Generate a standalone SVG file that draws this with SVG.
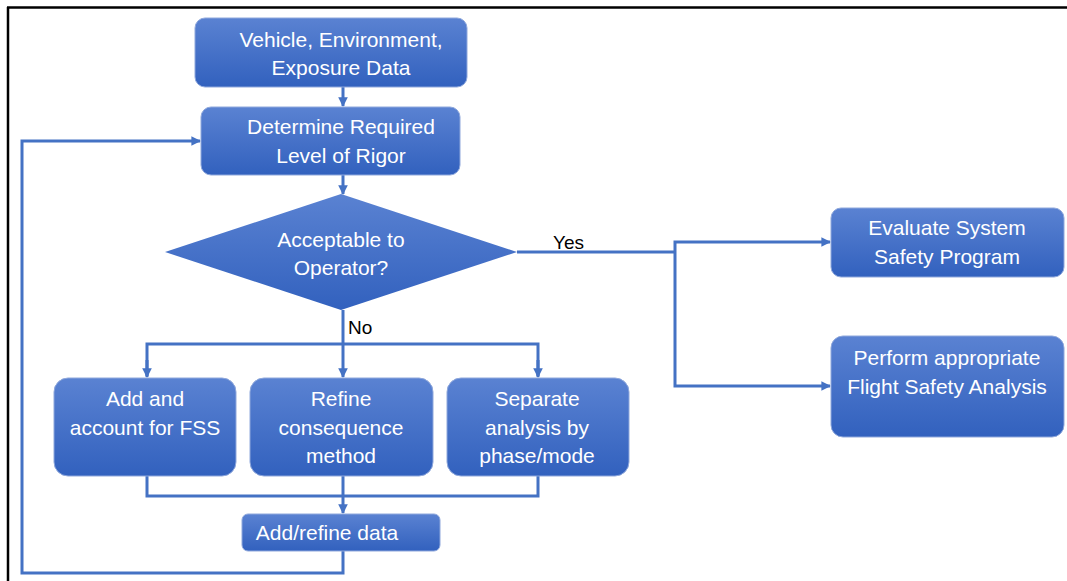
<svg xmlns="http://www.w3.org/2000/svg" width="1067" height="581" viewBox="0 0 1067 581">
<defs>
<linearGradient id="g" x1="0" y1="0" x2="0" y2="1">
<stop offset="0" stop-color="#5a82d2"/>
<stop offset="1" stop-color="#3261be"/>
</linearGradient>
<marker id="ah" viewBox="0 0 10 10" refX="9" refY="5" markerWidth="3.2" markerHeight="3.2" orient="auto" markerUnits="strokeWidth">
<path d="M0,0 L10,5 L0,10 z" fill="#4472c4"/>
</marker>
<style>
.box{fill:url(#g);stroke:#8fa8dc;stroke-width:1}
.t{font-family:"Liberation Sans",Arial,sans-serif;font-size:21px;fill:#ffffff;text-anchor:middle}
.lbl{font-family:"Liberation Sans",Arial,sans-serif;font-size:19px;fill:#000000}
.c{fill:none;stroke:#4472c4;stroke-width:3}
.ca{fill:none;stroke:#4472c4;stroke-width:3;marker-end:url(#ah)}
</style>
</defs>
<rect width="1067" height="581" fill="#ffffff"/>
<g id="frame">
<line x1="7" y1="7.5" x2="1067" y2="7.5" stroke="#000" stroke-width="2.5"/>
<line x1="8" y1="7" x2="8" y2="581" stroke="#000" stroke-width="2.5"/>
</g>
<g id="connectors">
<line class="ca" x1="343" y1="87" x2="343" y2="106"/>
<line class="ca" x1="343" y1="175" x2="343" y2="194"/>
<line class="c" x1="343" y1="310" x2="343" y2="344"/>
<path class="c" d="M147,376 V344 H538 V376"/>
<line class="ca" x1="147" y1="360" x2="147" y2="377"/>
<line class="ca" x1="343" y1="344" x2="343" y2="377"/>
<line class="ca" x1="538" y1="360" x2="538" y2="377"/>
<path class="c" d="M147,476 V496 H538 V476"/>
<line class="ca" x1="343" y1="476" x2="343" y2="513"/>
<path class="ca" d="M343,551 V573 H22 V141 H200"/>
<path class="c" d="M517,252 H675"/>
<path class="ca" d="M675,252 V242 H830"/>
<path class="ca" d="M675,252 V386 H830"/>
<text class="lbl" x="553" y="249">Yes</text>
<text class="lbl" x="348" y="334">No</text>
</g>
<g id="n1">
<rect class="box" x="195" y="18" width="272" height="69" rx="10"/>
<text class="t" x="341" y="47">Vehicle, Environment,</text>
<text class="t" x="341" y="75">Exposure Data</text>
</g>
<g id="n2">
<rect class="box" x="201" y="107" width="259" height="68" rx="10"/>
<text class="t" x="341" y="134">Determine Required</text>
<text class="t" x="341" y="163">Level of Rigor</text>
</g>
<g id="n3">
<polygon points="341,194 517,252 341,310 165,252" fill="url(#g)"/>
<text class="t" x="341" y="247">Acceptable to</text>
<text class="t" x="341" y="275">Operator?</text>
</g>
<g id="n4">
<rect class="box" x="54" y="378" width="182" height="98" rx="14"/>
<text class="t" x="145" y="406">Add and</text>
<text class="t" x="145" y="435">account for FSS</text>
</g>
<g id="n5">
<rect class="box" x="250" y="378" width="183" height="98" rx="14"/>
<text class="t" x="341" y="406">Refine</text>
<text class="t" x="341" y="435">consequence</text>
<text class="t" x="341" y="463">method</text>
</g>
<g id="n6">
<rect class="box" x="447" y="378" width="182" height="98" rx="14"/>
<text class="t" x="537" y="406">Separate</text>
<text class="t" x="537" y="435">analysis by</text>
<text class="t" x="537" y="463">phase/mode</text>
</g>
<g id="n7">
<rect class="box" x="242" y="514" width="198" height="37" rx="6"/>
<text class="t" x="327" y="540">Add/refine data</text>
</g>
<g id="n8">
<rect class="box" x="831" y="208" width="233" height="69" rx="10"/>
<text class="t" x="947" y="235">Evaluate System</text>
<text class="t" x="947" y="264">Safety Program</text>
</g>
<g id="n9">
<rect class="box" x="831" y="336" width="233" height="101" rx="12"/>
<text class="t" x="947" y="365">Perform appropriate</text>
<text class="t" x="947" y="394">Flight Safety Analysis</text>
</g>
</svg>
